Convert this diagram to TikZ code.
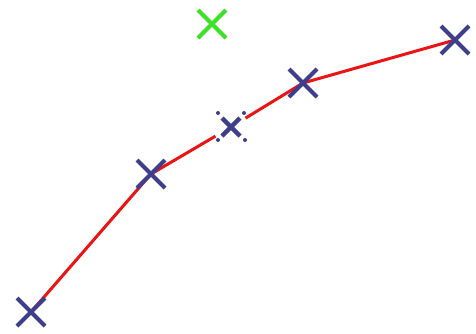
\documentclass[tikz,border=0pt]{standalone}
\usepackage{tikz}
\usetikzlibrary{calc}

\definecolor{crossblue}{RGB}{62,62,140}
\definecolor{crossgreen}{RGB}{60,225,40}
\definecolor{pathred}{RGB}{235,20,20}

\tikzset{
  cross/.style={line width=2pt, crossblue},
  pathline/.style={line width=1.5pt, pathred},
}

\begin{document}
\begin{tikzpicture}[x=0.5pt,y=-0.5pt]
\useasboundingbox (0,0) rectangle (476,333);

\coordinate (p1) at (31,312);
\coordinate (p2) at (151,174);
\coordinate (pm) at (231,127);
\coordinate (p4) at (303,83);
\coordinate (p5) at (455,40);
\coordinate (goal) at (212,24);

% red path, broken round the middle point
\draw [pathline] (p1) -- (p2);
\draw [pathline, shorten >=9pt] (p2) -- (pm);
\draw [pathline, shorten <=8.5pt] (pm) -- (p4);
\draw [pathline] (p4) -- (p5);

% crosses
\draw [cross] ($(p1)+(-14,-14)$) -- ($(p1)+(14,14)$) ($(p1)+(-14,14)$) -- ($(p1)+(14,-14)$);
\draw [cross] ($(p2)+(-14,-14)$) -- ($(p2)+(14,14)$) ($(p2)+(-14,14)$) -- ($(p2)+(14,-14)$);
\draw [cross] ($(p4)+(-14,-14)$) -- ($(p4)+(14,14)$) ($(p4)+(-14,14)$) -- ($(p4)+(14,-14)$);
\draw [cross] ($(p5)+(-14,-14)$) -- ($(p5)+(14,14)$) ($(p5)+(-14,14)$) -- ($(p5)+(14,-14)$);
\draw [cross, crossgreen] ($(goal)+(-14,-14)$) -- ($(goal)+(14,14)$) ($(goal)+(-14,14)$) -- ($(goal)+(14,-14)$);

% small cross with dotted box
\draw [cross, line width=2.2pt] ($(pm)+(-9,-9)$) -- ($(pm)+(9,9)$) ($(pm)+(-9,9)$) -- ($(pm)+(9,-9)$);
\fill [crossblue] ($(pm)+(-13,-14)$) circle[radius=2];
\fill [crossblue] ($(pm)+(13,-14)$) circle[radius=2];
\fill [crossblue] ($(pm)+(-13,13)$) circle[radius=2];
\fill [crossblue] ($(pm)+(14,13)$) circle[radius=2];

\end{tikzpicture}
\end{document}
